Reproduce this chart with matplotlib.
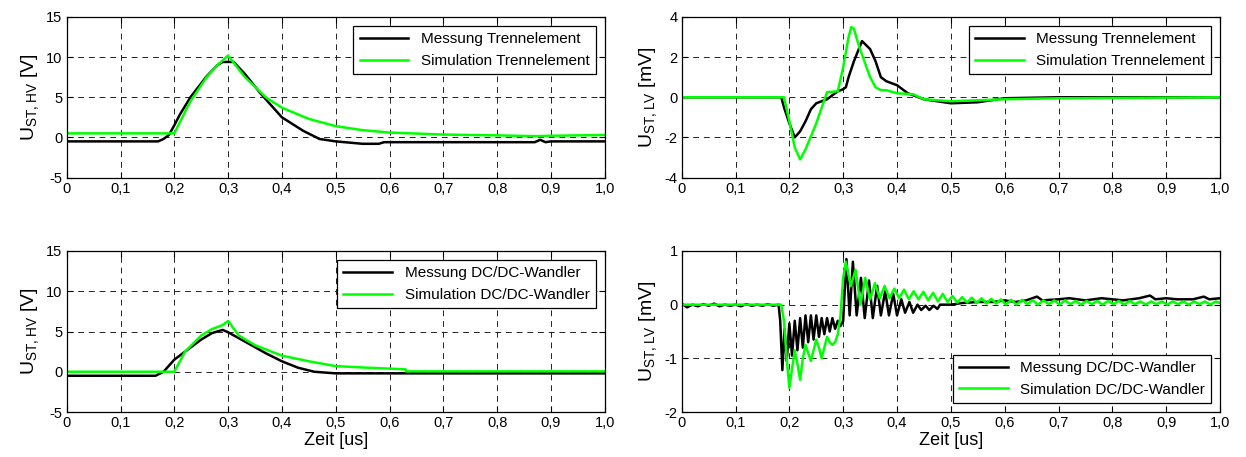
import matplotlib
matplotlib.use("Agg")
import matplotlib.pyplot as plt

plt.rcParams['font.family'] = ['Liberation Sans', 'DejaVu Sans']
plt.rcParams['mathtext.default'] = 'regular'
plt.rcParams['axes.unicode_minus'] = False

# time axis in us
# top left: U_ST,HV Trennelement [V]
tl_meas_t = [0.0, 0.17, 0.18, 0.19, 0.20, 0.21, 0.23, 0.26, 0.28, 0.29, 0.31, 0.33, 0.36, 0.40, 0.44, 0.47, 0.50,
             0.55, 0.58, 0.59, 0.70, 0.87, 0.88, 0.89, 0.90, 1.0]
tl_meas_v = [-0.5, -0.5, -0.2, 0.3, 1.5, 2.8, 5.0, 7.6, 9.0, 9.4, 9.4, 8.0, 5.5, 2.5, 0.8, -0.2, -0.5,
             -0.8, -0.8, -0.6, -0.6, -0.6, -0.3, -0.6, -0.5, -0.5]
tl_sim_t = [0.0, 0.20, 0.23, 0.26, 0.28, 0.30, 0.33, 0.37, 0.40, 0.45, 0.50, 0.55, 0.60, 0.70, 0.80, 0.87, 0.90, 1.0]
tl_sim_v = [0.5, 0.5, 4.5, 7.5, 9.0, 10.2, 7.6, 5.0, 3.7, 2.3, 1.4, 0.9, 0.6, 0.35, 0.25, 0.15, 0.2, 0.3]

# top right: U_ST,LV Trennelement [mV]
tr_meas_t = [0.0, 0.185, 0.19, 0.20, 0.21, 0.22, 0.23, 0.24, 0.25, 0.27, 0.29, 0.30, 0.305, 0.31, 0.32, 0.335,
             0.35, 0.36, 0.37, 0.38, 0.40, 0.42, 0.45, 0.50, 0.55, 0.60, 0.70, 1.0]
tr_meas_v = [0.0, 0.0, -0.5, -1.3, -2.0, -1.7, -1.2, -0.6, -0.3, -0.1, 0.3, 0.4, 0.5, 1.0, 1.8, 2.8,
             2.4, 1.8, 1.0, 0.8, 0.6, 0.2, -0.1, -0.3, -0.25, -0.05, 0.0, 0.0]
tr_sim_t = [0.0, 0.19, 0.20, 0.21, 0.22, 0.23, 0.25, 0.27, 0.29, 0.30, 0.31, 0.315, 0.32, 0.33, 0.35, 0.36,
            0.37, 0.38, 0.40, 0.43, 0.45, 0.50, 0.60, 0.70, 1.0]
tr_sim_v = [0.0, 0.0, -1.2, -2.5, -3.1, -2.6, -1.3, 0.25, 0.3, 1.5, 3.0, 3.5, 3.4, 2.5, 1.0, 0.5,
            0.35, 0.35, 0.2, 0.15, -0.1, -0.2, -0.1, -0.05, 0.0]

# bottom left: U_ST,HV DC/DC-Wandler [V]
bl_meas_t = [0.0, 0.165, 0.18, 0.20, 0.22, 0.25, 0.27, 0.29, 0.30, 0.33, 0.37, 0.40, 0.43, 0.46, 0.50, 1.0]
bl_meas_v = [-0.5, -0.5, 0.0, 1.5, 2.5, 4.0, 4.8, 5.2, 4.9, 3.8, 2.3, 1.3, 0.5, 0.0, -0.2, -0.2]
bl_sim_t = [0.0, 0.20, 0.22, 0.25, 0.27, 0.29, 0.30, 0.32, 0.35, 0.40, 0.45, 0.50, 0.56, 0.63, 0.631, 1.0]
bl_sim_v = [0.0, 0.0, 2.5, 4.5, 5.3, 5.8, 6.3, 4.5, 3.3, 2.0, 1.3, 0.7, 0.5, 0.3, 0.05, 0.05]

# bottom right: U_ST,LV DC/DC-Wandler [mV]
br_meas_t = [0.0, 0.01, 0.02, 0.03, 0.04, 0.05, 0.06, 0.07, 0.08, 0.09, 0.10, 0.11, 0.12, 0.13, 0.14, 0.15,
             0.16, 0.17, 0.18, 0.183, 0.187, 0.191, 0.195, 0.200, 0.205, 0.210, 0.215, 0.220, 0.225, 0.230,
             0.235, 0.240, 0.245, 0.250, 0.255, 0.260, 0.265, 0.270, 0.275, 0.280, 0.285, 0.290, 0.295, 0.300,
             0.303, 0.306, 0.312, 0.318, 0.325, 0.333, 0.340, 0.348, 0.355, 0.363, 0.370, 0.378, 0.385, 0.393,
             0.400, 0.408, 0.415, 0.423, 0.430, 0.438, 0.445, 0.453, 0.460, 0.468, 0.475, 0.48, 0.50, 0.52,
             0.55, 0.58, 0.60, 0.62, 0.64, 0.66, 0.67, 0.70, 0.72, 0.75, 0.78, 0.80, 0.82, 0.85, 0.87, 0.88,
             0.90, 0.92, 0.95, 0.97, 0.98, 1.0]
br_meas_v = [0.02, -0.05, 0.0, -0.03, 0.01, -0.02, 0.02, -0.03, 0.0, -0.02, 0.0, -0.03, 0.01, -0.02, 0.0, -0.02,
             0.01, -0.02, 0.0, -0.3, -1.22, -0.45, -1.05, -0.35, -0.95, -0.3, -0.85, -0.25, -0.8, -0.2,
             -0.7, -0.2, -0.65, -0.2, -0.6, -0.25, -0.55, -0.25, -0.5, -0.25, -0.45, -0.3, -0.4, -0.3,
             0.3, 0.85, -0.2, 0.8, -0.2, 0.5, -0.25, 0.45, -0.25, 0.35, -0.2, 0.25, -0.2, 0.2,
             -0.2, 0.1, -0.15, 0.05, -0.15, 0.0, -0.1, -0.02, -0.1, -0.02, -0.08, 0.0, 0.0, 0.03,
             0.05, 0.05, 0.08, 0.05, 0.08, 0.15, 0.08, 0.1, 0.12, 0.08, 0.12, 0.1, 0.08, 0.12, 0.17, 0.1,
             0.12, 0.1, 0.1, 0.15, 0.1, 0.12]
br_sim_t = [0.0, 0.185, 0.19, 0.195, 0.200, 0.205, 0.210, 0.215, 0.220, 0.225, 0.230, 0.235, 0.240, 0.245,
            0.250, 0.255, 0.260, 0.265, 0.270, 0.275, 0.280, 0.285, 0.290, 0.295, 0.300, 0.305, 0.314, 0.323,
            0.332, 0.341, 0.350, 0.359, 0.368, 0.377, 0.386, 0.395, 0.404, 0.413, 0.422, 0.431, 0.440, 0.449,
            0.458, 0.467, 0.476, 0.485, 0.494, 0.503, 0.512, 0.521, 0.530, 0.539, 0.548, 0.557, 0.566, 0.575,
            0.584, 0.593, 0.602, 0.612, 0.622, 0.632, 0.642, 0.652, 0.662, 0.672, 0.682, 0.692, 0.702, 0.712,
            0.722, 0.732, 0.742, 0.752, 0.762, 0.772, 0.782, 0.792, 0.802, 0.812, 0.822, 0.832, 0.842, 0.852,
            0.862, 0.872, 0.882, 0.892, 0.902, 0.912, 0.922, 0.932, 0.942, 0.952, 0.962, 0.972, 0.982, 0.992, 1.0]
br_sim_v = [0.0, 0.0, -0.3, -1.0, -1.55, -1.2, -0.85, -1.1, -1.4, -1.0, -0.75, -0.9, -1.05, -0.85,
            -0.65, -0.8, -1.0, -0.8, -0.6, -0.7, -0.75, -0.7, -0.55, -0.2, 0.5, 0.8, 0.35, 0.65,
            0.0, 0.5, 0.1, 0.4, 0.12, 0.35, 0.12, 0.3, 0.12, 0.28, 0.1, 0.25, 0.1, 0.24,
            0.08, 0.22, 0.06, 0.2, 0.05, 0.16, 0.04, 0.14, 0.04, 0.13, 0.03, 0.12, 0.02, 0.11,
            0.02, 0.1, 0.0, 0.09, 0.0, 0.09, 0.01, 0.08, 0.0, 0.08, 0.01, 0.08, 0.0, 0.08,
            0.01, 0.07, 0.0, 0.07, 0.01, 0.07, 0.0, 0.07, 0.01, 0.07, 0.0, 0.07, 0.01, 0.06,
            0.0, 0.06, 0.01, 0.06, 0.0, 0.06, 0.01, 0.06, 0.0, 0.06, 0.01, 0.06, 0.0, 0.06, 0.03]

x_ticks = [0, 0.1, 0.2, 0.3, 0.4, 0.5, 0.6, 0.7, 0.8, 0.9, 1.0]
x_ticklabels = ['0', '0,1', '0,2', '0,3', '0,4', '0,5', '0,6', '0,7', '0,8', '0,9', '1,0']

W, H = 1246, 457
fig = plt.figure(figsize=(W / 100, H / 100), dpi=100)


def make_ax(x0, y0, x1, y1):
    return fig.add_axes([x0 / W, 1 - y1 / H, (x1 - x0) / W, (y1 - y0) / H])


panels = [
    (make_ax(66.7, 17, 604.7, 177.5), tl_meas_t, tl_meas_v, tl_sim_t, tl_sim_v,
     'Trennelement', (-5, 15), [-5, 0, 5, 10, 15], 'U$_{ST,HV}$ [V]', 'upper right', False),
    (make_ax(681.7, 17, 1220, 177.5), tr_meas_t, tr_meas_v, tr_sim_t, tr_sim_v,
     'Trennelement', (-4, 4), [-4, -2, 0, 2, 4], 'U$_{ST,LV}$ [mV]', 'upper right', False),
    (make_ax(66.7, 251, 604.7, 412), bl_meas_t, bl_meas_v, bl_sim_t, bl_sim_v,
     'DC/DC-Wandler', (-5, 15), [-5, 0, 5, 10, 15], 'U$_{ST,HV}$ [V]', 'upper right', True),
    (make_ax(681.7, 251, 1220, 412), br_meas_t, br_meas_v, br_sim_t, br_sim_v,
     'DC/DC-Wandler', (-2, 1), [-2, -1, 0, 1], 'U$_{ST,LV}$ [mV]', 'lower right', True),
]

for ax, mt, mv, st, sv, name, ylim, yticks, ylabel, loc, xlab in panels:
    ax.plot(mt, mv, color='black', lw=1.8, label='Messung ' + name)
    ax.plot(st, sv, color='#00ff00', lw=1.8, label='Simulation ' + name)
    ax.set_xlim(0, 1)
    ax.set_ylim(*ylim)
    ax.set_xticks(x_ticks)
    ax.set_xticklabels(x_ticklabels)
    ax.set_yticks(yticks)
    ax.tick_params(direction='in', top=True, right=True, labelsize=10.5, length=4, pad=3)
    ax.grid(True, color='#222222', linestyle=(0, (6, 5)), lw=0.7)
    for s in ax.spines.values():
        s.set_linewidth(0.9)
    ax.set_ylabel(ylabel, fontsize=14, labelpad=4)
    if xlab:
        ax.set_xlabel('Zeit [us]', fontsize=13, labelpad=1)
    leg = ax.legend(loc=loc, fontsize=11, fancybox=False, framealpha=1, edgecolor='black',
                    handlelength=3.2, borderaxespad=0.6)
    leg.get_frame().set_linewidth(0.9)

fig.savefig('out.png', dpi=100)
